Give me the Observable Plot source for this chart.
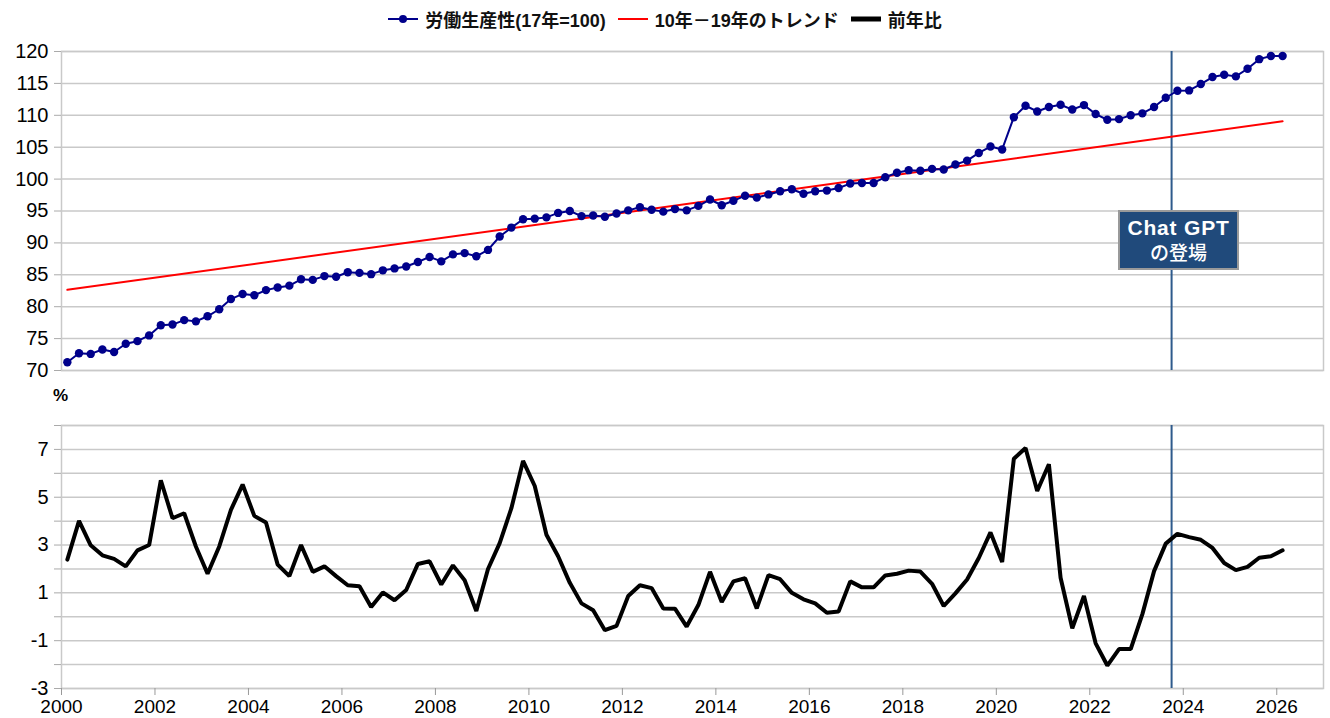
<!DOCTYPE html>
<html><head><meta charset="utf-8">
<script src="https://cdn.jsdelivr.net/npm/d3@7"></script>
<script src="https://cdn.jsdelivr.net/npm/@observablehq/plot@0.6"></script>
<style>
body{margin:0;background:#fff;font-family:"Liberation Sans",Arial,"Noto Sans CJK JP",sans-serif;}
#wrap{position:relative;width:1330px;height:718px;overflow:hidden;background:#fff}
#legend{position:absolute;left:0;top:6px;width:1330px;display:flex;justify-content:center;align-items:center;font-weight:bold;font-size:18px;color:#111;padding-left:12px;box-sizing:border-box}
#legend .item{display:flex;align-items:center;margin-right:12px}
#legend svg{margin-right:7px}
.panel{position:absolute;left:0}
#pct{position:absolute;left:53px;top:386px;font-weight:bold;font-size:17px}
#note{position:absolute;width:117px;height:56px;background:#204a7b;border:2px solid #9a9a9a;color:#fff;text-align:center;box-sizing:content-box}
#note .l1{font-weight:bold;font-size:21px;letter-spacing:0.8px;line-height:25px;margin-top:3px}
#note .l2{font-size:19px;line-height:24px;font-weight:500;font-family:"Noto Sans CJK JP",sans-serif}
</style></head><body><div id="wrap"></div>
<script>
// ---- data (quarterly, 2000Q1 .. 2026Q1) ----
const startYear = 2000;
const productivity = [
  71.3, 72.7, 72.6, 73.3, 72.9, 74.2, 74.6, 75.5, 77.1, 77.2, 77.9, 77.7, 78.5, 79.6, 81.2, 82.0,
  81.8, 82.6, 83.0, 83.3, 84.3, 84.2, 84.8, 84.7, 85.4, 85.3, 85.1, 85.7, 86.0, 86.3, 87.0, 87.8,
  87.1, 88.2, 88.4, 87.9, 88.9, 91.0, 92.4, 93.7, 93.8, 94.0, 94.7, 95.0, 94.2, 94.3, 94.1, 94.6,
  95.1, 95.6, 95.2, 94.9, 95.3, 95.1, 95.8, 96.8, 95.9, 96.6, 97.4, 97.1, 97.6, 98.1, 98.4, 97.7,
  98.1, 98.2, 98.6, 99.3, 99.4, 99.4, 100.3, 101.0, 101.4, 101.3, 101.6, 101.5, 102.3, 102.9, 104.1, 105.1,
  104.65, 109.7, 111.5, 110.6, 111.3, 111.65, 110.9, 111.6, 110.2, 109.3, 109.4, 110.0, 110.3, 111.3, 112.75, 113.85,
  113.9, 114.9, 116.0, 116.35, 116.1, 117.3, 118.8, 119.3, 119.3
];
const yoy = [
  2.39, 4.01, 2.99, 2.57, 2.42, 2.11, 2.78, 3.0, 5.71, 4.12, 4.33, 2.94, 1.80, 2.94, 4.47, 5.53,
  4.22, 3.94, 2.18, 1.70, 3.0, 1.88, 2.11, 1.70, 1.32, 1.28, 0.41, 1.02, 0.69, 1.12, 2.21, 2.32,
  1.35, 2.15, 1.53, 0.24, 2.0, 3.08, 4.54, 6.52, 5.47, 3.43, 2.53, 1.42, 0.56, 0.27, -0.56, -0.38,
  0.87, 1.32, 1.2, 0.35, 0.34, -0.41, 0.49, 1.88, 0.62, 1.48, 1.61, 0.35, 1.74, 1.57, 1.0, 0.73,
  0.56, 0.17, 0.22, 1.48, 1.23, 1.23, 1.73, 1.80, 1.93, 1.89, 1.38, 0.45, 0.98, 1.56, 2.46, 3.53,
  2.29, 6.61, 7.06, 5.26, 6.38, 1.63, -0.48, 0.87, -1.11, -2.04, -1.35, -1.35, 0.11, 1.91, 3.06, 3.47,
  3.33, 3.22, 2.88, 2.25, 1.95, 2.09, 2.47, 2.53, 2.78
];
// 10年－19年のトレンド (straight line): endpoints at quarter index 0 and 104
const trendQuarter = [0, 104];
const trendValue = [82.65, 109.05];
const chatGptDate = 2023.75;
const chatGptNoteY = 90.4;
const chatGptLabel = ["Chat GPT", "の登場"];
const legendLabels = ["労働生産性(17年=100)", "10年－19年のトレンド", "前年比"];
const topTicks = [70, 75, 80, 85, 90, 95, 100, 105, 110, 115, 120];
const bottomTicks = [-3, -2, -1, 0, 1, 2, 3, 4, 5, 6, 7, 8];
const bottomLabels = [-3, -1, 1, 3, 5, 7];
const yearTicks = [2000, 2002, 2004, 2006, 2008, 2010, 2012, 2014, 2016, 2018, 2020, 2022, 2024, 2026];
const unitLabel = "%";

// ---- build tables ----
const qx = i => startYear + (i + 0.5) / 4;
const prodData = productivity.map((v, i) => ({x: qx(i), y: v}));
const yoyData = yoy.map((v, i) => ({x: qx(i), y: v}));
const trendData = trendQuarter.map((q, i) => ({x: qx(q), y: trendValue[i]}));

const BLUE = "#00008b", RED = "#ff0000", VLINE = "#2e5a8c", GRID = "#c9c9c9";
const font = '"Liberation Sans", Arial, "Noto Sans CJK JP", sans-serif';
const wrap = document.getElementById("wrap");

// legend
const legend = document.createElement("div");
legend.id = "legend";
const swatches = [
  `<svg width="30" height="14"><line x1="0" y1="7" x2="30" y2="7" stroke="${BLUE}" stroke-width="2"/><circle cx="15" cy="7" r="4" fill="${BLUE}"/></svg>`,
  `<svg width="30" height="14"><line x1="0" y1="7" x2="30" y2="7" stroke="${RED}" stroke-width="2"/></svg>`,
  `<svg width="30" height="14"><line x1="0" y1="7" x2="30" y2="7" stroke="#000" stroke-width="5"/></svg>`
];
legendLabels.forEach((t, i) => {
  const d = document.createElement("div");
  d.className = "item";
  d.innerHTML = swatches[i] + `<span>${t}</span>`;
  legend.appendChild(d);
});
wrap.appendChild(legend);

const common = {
  width: 1330, marginLeft: 61, marginRight: 7,
  x: {domain: [2000, 2027]},
  style: {fontFamily: font, fontSize: "20px", color: "#000", background: "transparent"}
};

const topChart = Plot.plot({
  ...common,
  height: 350, marginTop: 21, marginBottom: 10,
  x: {domain: [2000, 2027], axis: null},
  y: {domain: [70, 120]},
  marks: [
    Plot.gridY(topTicks, {stroke: GRID, strokeOpacity: 1, strokeWidth: 1.5}),
    Plot.frame({stroke: GRID, strokeWidth: 1.5}),
    Plot.axisY(topTicks, {tickSize: 7, tickPadding: 6, stroke: "#aaa", label: null, fontSize: 20}),
    Plot.ruleX([chatGptDate], {stroke: VLINE, strokeWidth: 2}),
    Plot.line(trendData, {x: "x", y: "y", stroke: RED, strokeWidth: 2}),
    Plot.line(prodData, {x: "x", y: "y", stroke: BLUE, strokeWidth: 2}),
    Plot.dot(prodData, {x: "x", y: "y", fill: BLUE, r: 4.2})
  ]
});
topChart.classList.add("panel");
topChart.style.top = "30px";
wrap.appendChild(topChart);

const botChart = Plot.plot({
  ...common,
  height: 338, marginTop: 45, marginBottom: 30,
  y: {domain: [-3, 8]},
  marks: [
    Plot.gridY(bottomTicks, {stroke: GRID, strokeOpacity: 1, strokeWidth: 1.5}),
    Plot.frame({stroke: GRID, strokeWidth: 1.5}),
    Plot.axisY(bottomTicks, {tickSize: 7, tickPadding: 6, stroke: "#aaa", label: null, fontSize: 20,
      tickFormat: d => bottomLabels.includes(d) ? String(d) : ""}),
    Plot.axisX(yearTicks, {tickSize: 7, tickPadding: 4, stroke: "#999", label: null, fontSize: 19, tickFormat: d => String(d)}),
    Plot.ruleX([chatGptDate], {stroke: VLINE, strokeWidth: 2}),
    Plot.line(yoyData, {x: "x", y: "y", stroke: "#000", strokeWidth: 4, strokeLinejoin: "miter"})
  ]
});
botChart.classList.add("panel");
botChart.style.top = "380px";
wrap.appendChild(botChart);

// "%" unit label
const pct = document.createElement("div");
pct.id = "pct";
pct.textContent = unitLabel;
wrap.appendChild(pct);

// Chat GPT annotation box, anchored through the chart's own scales
const sx = topChart.scale("x").apply(chatGptDate);
const sy = topChart.scale("y").apply(chatGptNoteY) + 30;
const note = document.createElement("div");
note.id = "note";
note.innerHTML = `<div class="l1">${chatGptLabel[0]}</div><div class="l2">${chatGptLabel[1]}</div>`;
note.style.left = (sx - 53) + "px";
note.style.top = (sy - 30) + "px";
wrap.appendChild(note);
</script>
</body></html>
